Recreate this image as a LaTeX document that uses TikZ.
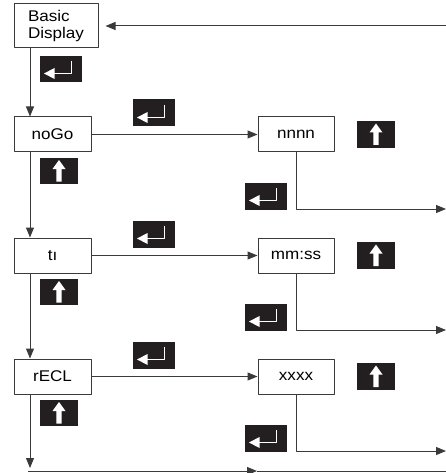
\documentclass[tikz,border=0pt]{standalone}
\usepackage{fontspec}
\setmainfont{Liberation Sans}[FakeStretch=1.1]
\usetikzlibrary{arrows.meta}
\definecolor{keyfill}{HTML}{231F20}
\definecolor{wire}{HTML}{3A3A3A}

\tikzset{
  box/.style={draw=wire, line width=1pt, fill=white, minimum height=35pt, inner sep=0pt},
  keybox/.style={fill=keyfill, inner sep=0pt, minimum width=42pt, minimum height=27pt},
  upbox/.style={fill=keyfill, inner sep=0pt, minimum width=38pt, minimum height=27pt},
  link/.style={draw=wire, line width=1pt},
  pics/enter/.style={code={
      \draw[white, line width=1.7pt] (10.5,-8) -- (10.5,4.5) -- (-8,4.5);
      \fill[white] (-17,4.5) -- (-6.5,-1) -- (-6.5,10) -- cycle;
  }},
  pics/up/.style={code={
      \fill[white] (0,-11) -- (6.5,-2) -- (2.7,-2) -- (2.7,10.5)
        -- (-2.7,10.5) -- (-2.7,-2) -- (-6.5,-2) -- cycle;
  }},
}

\begin{document}
\begin{tikzpicture}[x=1pt, y=-1pt, line join=round,
    >={Triangle[length=10pt,width=8pt]},
    font=\fontsize{15.5}{17}\selectfont]
  \useasboundingbox (0,0) rectangle (446,473);
  \path
  (30,0) coordinate (spine)
  (446,26) coordinate (back)
  (30,468) coordinate (last)
  (28,471) coordinate (foot)
  (257,471) coordinate (mid)
  (446,471) coordinate (home)
  ;
  % basic display
  \node[box, minimum width=84pt, minimum height=44pt, align=left] (basic) at (56,26) {Basic\\Display};
  \node[keybox, minimum height=26pt] (basic-ok) at (61,69) {};
  \pic at (basic-ok) {enter};
  \draw[link, ->, shorten >=7pt] (back) -- (basic);

  % menu rows
  \foreach \m/\v/\y/\lab/\val in {nogo/nnnn/134.5/noGo/nnnn, ti/mmss/255.5/tı/mm:ss, recl/xxxx/376.5/rECL/xxxx}{
    \node[box, minimum width=77pt] (\m) at (52.5,\y) {\lab};
    \node[box, minimum width=76pt] (\v) at (296,\y) {\val};
    \node[keybox] (\m-ok) at (154,\y-21.5) {};
    \pic at (\m-ok) {enter};
    \node[upbox, minimum height=26pt] (\m-up) at (59,\y+36.5) {};
    \pic at (\m-up) {up};
    \node[upbox] (\v-up) at (376,\y) {};
    \pic at (\v-up) {up};
    \node[keybox] (\v-ok) at (266,\y+61.5) {};
    \pic at (\v-ok) {enter};
    \coordinate (\v-out) at (446,\y+74.5);
    \draw[link, ->] (\m) -- (\v);
    \draw[link, ->] (\v.south) |- (\v-out);
  }

  % spine
  \draw[link, ->] (basic.south -| spine) -- (nogo.north -| spine);
  \draw[link, ->] (nogo.south -| spine) -- (ti.north -| spine);
  \draw[link, ->] (ti.south -| spine) -- (recl.north -| spine);
  \draw[link, ->] (recl.south -| spine) -- (last);
  \draw[link, ->] (foot) -- (mid);
  \draw[link] (mid) -- (home);
\end{tikzpicture}
\end{document}
